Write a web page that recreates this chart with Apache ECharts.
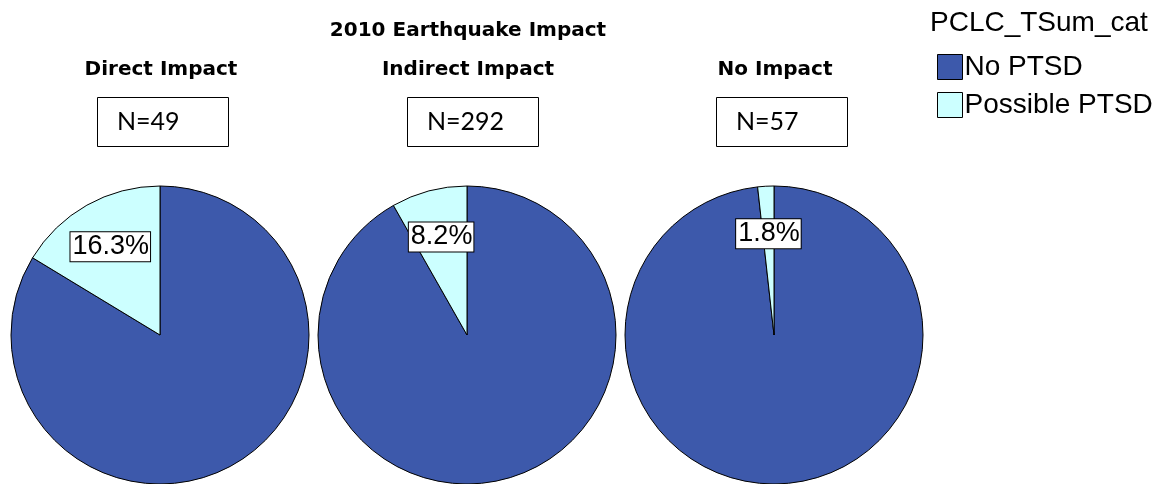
<!DOCTYPE html>
<html>
<head>
<meta charset="utf-8">
<script src="https://cdn.jsdelivr.net/npm/echarts@6/dist/echarts.min.js"></script>
<style>
  html, body { margin: 0; padding: 0; background: #fff; }
  #chart { width: 1167px; height: 484px; }
</style>
</head>
<body>
<div id="chart"></div>
<script>
// Groups of respondents by earthquake exposure
const panelNames = ['Direct Impact', 'Indirect Impact', 'No Impact'];
// Counts per PCL-C category within each group
const categories = ['No PTSD', 'Possible PTSD'];
const noPtsdCounts = [41, 268, 56];
const possiblePtsdCounts = [8, 24, 1];

const mainTitle = '2010 Earthquake Impact';
const legendTitle = 'PCLC_TSum_cat';

const colors = { 'No PTSD': '#3d59ab', 'Possible PTSD': '#ccffff' };
const centersX = [160, 467, 774];
const centerY = 335;
const pieRadius = 149;
const boxLeft = [97, 407, 716];

const chart = echarts.init(document.getElementById('chart'), null, { renderer: 'canvas' });

function sliceData(i) {
  return [
    { name: categories[0], value: noPtsdCounts[i], itemStyle: { color: colors[categories[0]] } },
    { name: categories[1], value: possiblePtsdCounts[i], itemStyle: { color: colors[categories[1]] } }
  ];
}

const series = [];
// Filled pies
panelNames.forEach((p, i) => {
  series.push({
    type: 'pie',
    name: p,
    center: [centersX[i], centerY],
    radius: [0, pieRadius],
    startAngle: 90,
    clockwise: true,
    silent: true,
    animation: false,
    percentPrecision: 1,
    label: { show: false },
    labelLine: { show: false },
    itemStyle: { borderColor: '#000', borderWidth: 1 },
    emphasis: { disabled: true },
    data: sliceData(i)
  });
});
// Percentage labels, placed two thirds of the way out along each slice
panelNames.forEach((p, i) => {
  const d = sliceData(i).map((o, k) => ({
    name: o.name,
    value: o.value,
    itemStyle: { color: 'rgba(0,0,0,0)' },
    label: { show: k === 1 }
  }));
  series.push({
    type: 'pie',
    name: p + ' labels',
    center: [centersX[i], centerY],
    radius: [0, pieRadius * 1.32],
    startAngle: 90,
    clockwise: true,
    silent: true,
    animation: false,
    percentPrecision: 1,
    avoidLabelOverlap: false,
    itemStyle: { borderWidth: 0, color: 'rgba(0,0,0,0)' },
    labelLine: { show: false },
    emphasis: { disabled: true },
    label: {
      position: 'inside',
      formatter: '{d}%',
      fontFamily: 'Liberation Sans',
      fontSize: 27,
      lineHeight: 28,
      color: '#000',
      backgroundColor: '#fff',
      borderColor: '#000',
      borderWidth: 1,
      padding: [1, 1, 0, 2]
    },
    data: d
  });
});

const graphic = [
  {
    type: 'text', left: null, x: 468, y: 31,
    style: { text: mainTitle, fontFamily: 'DejaVu Sans', fontWeight: 'bold', fontSize: 20,
             fill: '#000', align: 'center', verticalAlign: 'middle' }
  },
  {
    type: 'text', x: 930, y: 23,
    style: { text: legendTitle, fontFamily: 'Liberation Sans', fontSize: 28,
             fill: '#000', align: 'left', verticalAlign: 'middle' }
  }
];
panelNames.forEach((p, i) => {
  const n = noPtsdCounts[i] + possiblePtsdCounts[i];
  graphic.push({
    type: 'text', x: centersX[i] + 1, y: 70,
    style: { text: p, fontFamily: 'DejaVu Sans', fontWeight: 'bold', fontSize: 20,
             fill: '#000', align: 'center', verticalAlign: 'middle' }
  });
  graphic.push({
    type: 'rect',
    shape: { x: boxLeft[i] + 0.5, y: 97.5, width: 131, height: 49 },
    style: { fill: '#fff', stroke: '#000', lineWidth: 1 }
  });
  graphic.push({
    type: 'text', x: boxLeft[i] + 20, y: 122,
    style: { text: 'N=' + n, fontFamily: 'Lato', fontSize: 25,
             fill: '#000', align: 'left', verticalAlign: 'middle' }
  });
});

chart.setOption({
  animation: false,
  backgroundColor: '#fff',
  legend: {
    orient: 'vertical',
    left: 932,
    top: 48,
    itemWidth: 25,
    itemHeight: 25,
    itemGap: 10,
    icon: 'rect',
    selectedMode: false,
    data: categories,
    itemStyle: { borderColor: '#000', borderWidth: 1 },
    textStyle: { fontFamily: 'Liberation Sans', fontSize: 28, color: '#000', padding: [0, 0, 0, -3] }
  },
  graphic: graphic,
  series: series
});
</script>
</body>
</html>
